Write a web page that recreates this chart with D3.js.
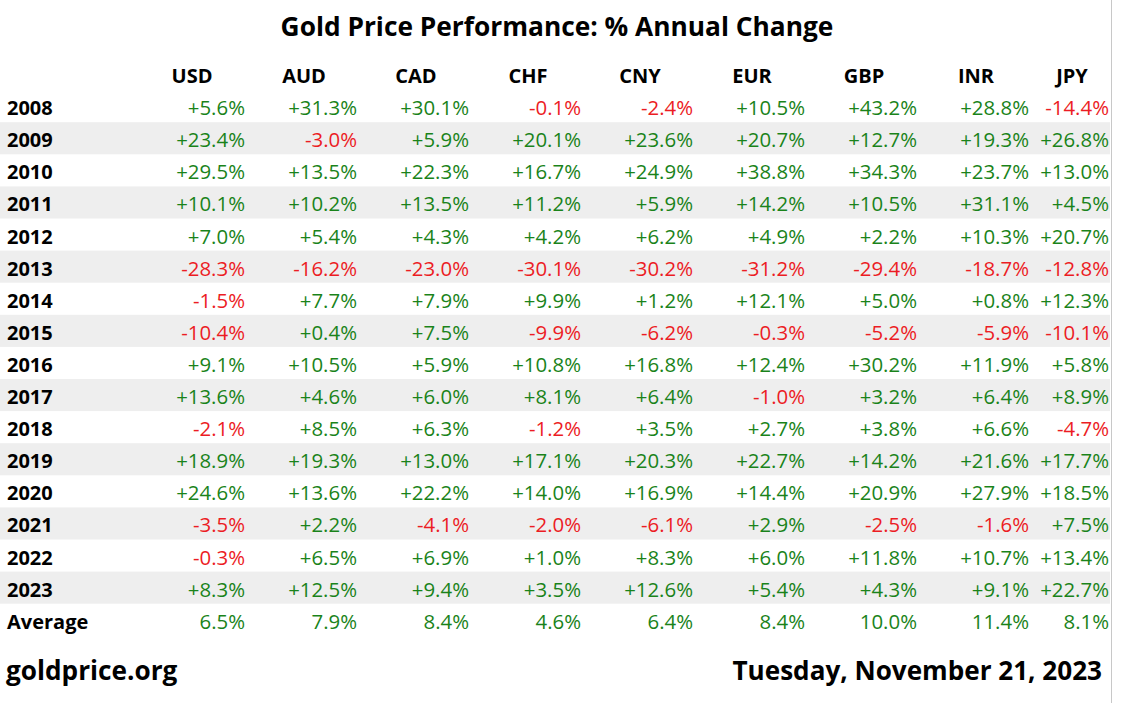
<!DOCTYPE html>
<html>
<head>
<meta charset="utf-8">
<script src="https://cdn.jsdelivr.net/npm/d3@7"></script>
<style>
  body { margin: 0; background: #fff; }
  svg { display: block; font-family: 'Open Sans', sans-serif; }
</style>
</head>
<body>
<svg width="1129" height="703"></svg>
<script>
const currencies = ['USD', 'AUD', 'CAD', 'CHF', 'CNY', 'EUR', 'GBP', 'INR', 'JPY']
const years = ['2008', '2009', '2010', '2011', '2012', '2013', '2014', '2015',
  '2016', '2017', '2018', '2019', '2020', '2021', '2022', '2023']

const USD = [5.6, 23.4, 29.5, 10.1, 7.0, -28.3, -1.5, -10.4, 9.1, 13.6, -2.1, 18.9, 24.6, -3.5, -0.3, 8.3]
const AUD = [31.3, -3.0, 13.5, 10.2, 5.4, -16.2, 7.7, 0.4, 10.5, 4.6, 8.5, 19.3, 13.6, 2.2, 6.5, 12.5]
const CAD = [30.1, 5.9, 22.3, 13.5, 4.3, -23.0, 7.9, 7.5, 5.9, 6.0, 6.3, 13.0, 22.2, -4.1, 6.9, 9.4]
const CHF = [-0.1, 20.1, 16.7, 11.2, 4.2, -30.1, 9.9, -9.9, 10.8, 8.1, -1.2, 17.1, 14.0, -2.0, 1.0, 3.5]
const CNY = [-2.4, 23.6, 24.9, 5.9, 6.2, -30.2, 1.2, -6.2, 16.8, 6.4, 3.5, 20.3, 16.9, -6.1, 8.3, 12.6]
const EUR = [10.5, 20.7, 38.8, 14.2, 4.9, -31.2, 12.1, -0.3, 12.4, -1.0, 2.7, 22.7, 14.4, 2.9, 6.0, 5.4]
const GBP = [43.2, 12.7, 34.3, 10.5, 2.2, -29.4, 5.0, -5.2, 30.2, 3.2, 3.8, 14.2, 20.9, -2.5, 11.8, 4.3]
const INR = [28.8, 19.3, 23.7, 31.1, 10.3, -18.7, 0.8, -5.9, 11.9, 6.4, 6.6, 21.6, 27.9, -1.6, 10.7, 9.1]
const JPY = [-14.4, 26.8, 13.0, 4.5, 20.7, -12.8, 12.3, -10.1, 5.8, 8.9, -4.7, 17.7, 18.5, 7.5, 13.4, 22.7]
const averages = [6.5, 7.9, 8.4, 4.6, 6.4, 8.4, 10.0, 11.4, 8.1]

const title = 'Gold Price Performance: % Annual Change'
const source = 'goldprice.org'
const dateLabel = 'Tuesday, November 21, 2023'

const series = { USD, AUD, CAD, CHF, CNY, EUR, GBP, INR, JPY }

const green = '#1a831a'
const red = '#ec1c24'

const svg = d3.select('svg')
const tableRight = 1110

const rowKeys = ['header', ...years, 'Average']
const yScale = d3.scaleBand()
  .domain(rowKeys)
  .range([58, 58 + 32.1 * rowKeys.length])

const xScale = d3.scaleBand()
  .domain(currencies)
  .range([134, 134 + 112 * currencies.length])

const colLeft = c => xScale(c)
const colRight = c => Math.min(xScale(c) + xScale.bandwidth(), tableRight)

// zebra stripes
svg.append('g').selectAll('rect')
  .data(years.filter((d, i) => i % 2 === 1))
  .enter().append('rect')
  .attr('x', 0)
  .attr('y', d => yScale(d))
  .attr('width', tableRight)
  .attr('height', yScale.bandwidth())
  .attr('fill', '#eeeeee')

// right border line
svg.append('line')
  .attr('x1', tableRight + 1.5).attr('x2', tableRight + 1.5)
  .attr('y1', 0).attr('y2', 703)
  .attr('stroke', '#c8c8c8')
  .attr('stroke-width', 1)

svg.append('text')
  .attr('x', 557)
  .attr('y', 36)
  .attr('text-anchor', 'middle')
  .style('font-size', '26.3px')
  .style('font-weight', 700)
  .text(title)

const base = 25

// header row
svg.append('g').selectAll('text')
  .data(currencies)
  .enter().append('text')
  .attr('x', d => (colLeft(d) + colRight(d)) / 2 + 2)
  .attr('y', yScale('header') + base)
  .attr('text-anchor', 'middle')
  .style('font-size', '20px')
  .style('font-weight', 700)
  .text(d => d)

// row labels
svg.append('g').selectAll('text')
  .data([...years, 'Average'])
  .enter().append('text')
  .attr('x', 7)
  .attr('y', d => yScale(d) + base)
  .style('font-size', '20px')
  .style('font-weight', 700)
  .text(d => d)

const fmt = v => (v < 0 ? '-' : '+') + Math.abs(v).toFixed(1) + '%'
const cells = []
years.forEach((y, i) => {
  currencies.forEach(c => cells.push({ row: y, col: c, value: series[c][i], label: fmt(series[c][i]) }))
})
currencies.forEach((c, j) => {
  cells.push({ row: 'Average', col: c, value: averages[j], label: averages[j].toFixed(1) + '%' })
})

svg.append('g').selectAll('text')
  .data(cells)
  .enter().append('text')
  .attr('x', d => colRight(d.col) - 1)
  .attr('y', d => yScale(d.row) + base)
  .attr('text-anchor', 'end')
  .style('font-size', '20.4px')
  .attr('fill', d => d.value < 0 ? red : green)
  .text(d => d.label)

svg.append('text')
  .attr('x', 6)
  .attr('y', 680)
  .style('font-size', '26.2px')
  .style('font-weight', 700)
  .text(source)

svg.append('text')
  .attr('x', 1102)
  .attr('y', 680)
  .attr('text-anchor', 'end')
  .style('font-size', '26.1px')
  .style('font-weight', 700)
  .text(dateLabel)
</script>
</body>
</html>
